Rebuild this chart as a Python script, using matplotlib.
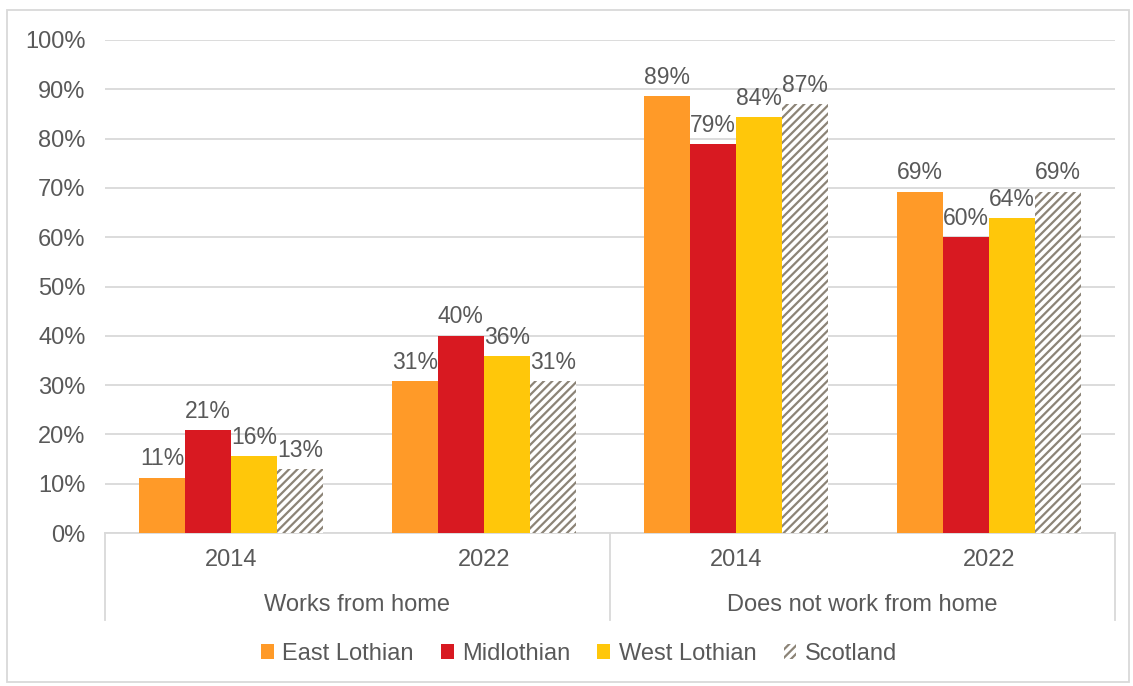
import matplotlib
matplotlib.use("Agg")
import matplotlib.pyplot as plt
import numpy as np
from matplotlib.patches import Rectangle, Patch

# values per series, in order of the x groups
groups = ["Works from home", "Does not work from home"]
years = ["2014", "2022", "2014", "2022"]
series = ["East Lothian", "Midlothian", "West Lothian", "Scotland"]
east_lothian = [11.2, 30.8, 88.6, 69.2]
midlothian = [20.9, 40.0, 78.9, 60.0]
west_lothian = [15.6, 35.9, 84.4, 63.9]
scotland = [13.0, 30.8, 87.0, 69.2]
yticks = list(range(0, 101, 10))

colors = ["#FF9A28", "#D81921", "#FFC70A", "white"]
hatch_col = "#8C8477"
text_col = "#595959"
grid_col = "#D9D9D9"
fs = 17

plt.rcParams["font.family"] = ["Liberation Sans", "DejaVu Sans"]
plt.rcParams["hatch.linewidth"] = 1.6

fig = plt.figure(figsize=(11.33, 6.86), dpi=100)
ax = fig.add_axes([105 / 1133, 1 - 533 / 686, 1010 / 1133, 493 / 686])

x = np.arange(len(years)) + 0.5
w = 0.182
data = [east_lothian, midlothian, west_lothian, scotland]
for i, (name, vals) in enumerate(zip(series, data)):
    pos = x + (i - 1.5) * w
    if name == "Scotland":
        ax.bar(pos, vals, w, color="white", edgecolor=hatch_col,
               linewidth=0, hatch="////", zorder=3)
    else:
        ax.bar(pos, vals, w, color=colors[i], linewidth=0, zorder=3)
    for xp, v in zip(pos, vals):
        ax.text(xp, v + 1.5, f"{v:.0f}%", ha="center", va="bottom",
                fontsize=16.5, color=text_col, zorder=4)

ax.set_xlim(0, 4)
ax.set_ylim(0, 100)
ax.set_yticks(yticks)
ax.set_yticklabels([f"{t}%" for t in yticks])
ax.tick_params(axis="y", length=0, pad=14, labelsize=fs, labelcolor=text_col)
ax.set_xticks([])
ax.yaxis.grid(True, color=grid_col, linewidth=1.3, zorder=0)
for s in ["top", "right", "left"]:
    ax.spines[s].set_visible(False)
ax.spines["bottom"].set_color(grid_col)
ax.spines["bottom"].set_linewidth(1.3)

# two-level category axis
tr = ax.get_xaxis_transform()
for xv in [0, 2, 4]:
    ax.plot([xv, xv], [0, -0.176], color=grid_col, lw=1.3, transform=tr,
            clip_on=False)
for xp, yr in zip(x, years):
    ax.text(xp, -0.055, yr, ha="center", va="center", fontsize=fs,
            color=text_col, transform=tr)
for k, g in enumerate(groups):
    ax.text(2 * k + 1, -0.146, g, ha="center", va="center", fontsize=fs,
            color=text_col, transform=tr)

handles = [Patch(facecolor=colors[0], linewidth=0),
           Patch(facecolor=colors[1], linewidth=0),
           Patch(facecolor=colors[2], linewidth=0),
           Patch(facecolor="white", edgecolor=hatch_col, linewidth=0, hatch="////")]
fig.legend(handles, series, loc="center", bbox_to_anchor=(0.511, 0.047),
           ncol=4, frameon=False, fontsize=fs, labelcolor=text_col,
           handlelength=0.55, handleheight=0.55, handletextpad=0.35,
           columnspacing=1.15)

fig.patches.append(Rectangle((7 / 1133, 4 / 686), 1122 / 1133, 672 / 686,
                             transform=fig.transFigure, fill=False,
                             edgecolor=grid_col, linewidth=1.3))

fig.savefig("out.png", dpi=100, facecolor="white")
